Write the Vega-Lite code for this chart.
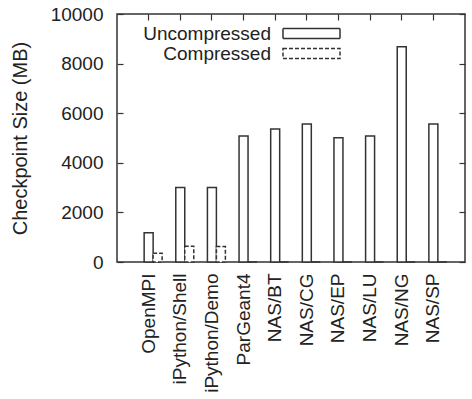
{
  "$schema": "https://vega.github.io/schema/vega-lite/v6.json",
  "width": 348,
  "height": 248,
  "autosize": {"type": "none"},
  "padding": {"left": 117, "top": 14, "right": 7, "bottom": 137},
  "background": "white",
  "config": {
    "font": "Liberation Sans",
    "view": {"stroke": "#333", "strokeWidth": 1.5},
    "axis": {"grid": false, "domain": false, "tickColor": "#333", "tickWidth": 1.2, "tickSize": -6, "labelColor": "#222", "labelFont": "Liberation Sans", "titleFont": "Liberation Sans", "titleFontWeight": "normal", "titleColor": "#222"}
  },
  "data": {"values": [
    {"app": "OpenMPI", "series": "Uncompressed", "size": 1180},
    {"app": "OpenMPI", "series": "Compressed", "size": 350},
    {"app": "iPython/Shell", "series": "Uncompressed", "size": 3000},
    {"app": "iPython/Shell", "series": "Compressed", "size": 640},
    {"app": "iPython/Demo", "series": "Uncompressed", "size": 3000},
    {"app": "iPython/Demo", "series": "Compressed", "size": 620},
    {"app": "ParGeant4", "series": "Uncompressed", "size": 5080},
    {"app": "ParGeant4", "series": "Compressed", "size": 0},
    {"app": "NAS/BT", "series": "Uncompressed", "size": 5360},
    {"app": "NAS/BT", "series": "Compressed", "size": 0},
    {"app": "NAS/CG", "series": "Uncompressed", "size": 5565},
    {"app": "NAS/CG", "series": "Compressed", "size": 0},
    {"app": "NAS/EP", "series": "Uncompressed", "size": 5010},
    {"app": "NAS/EP", "series": "Compressed", "size": 0},
    {"app": "NAS/LU", "series": "Uncompressed", "size": 5080},
    {"app": "NAS/LU", "series": "Compressed", "size": 0},
    {"app": "NAS/NG", "series": "Uncompressed", "size": 8680},
    {"app": "NAS/NG", "series": "Compressed", "size": 0},
    {"app": "NAS/SP", "series": "Uncompressed", "size": 5565},
    {"app": "NAS/SP", "series": "Compressed", "size": 0}
  ]},
  "layer": [
    {
      "mark": {"type": "bar", "fill": "white", "stroke": "#333", "strokeWidth": 1.5},
      "encoding": {
        "x": {"field": "app", "type": "nominal", "sort": null,
              "scale": {"paddingInner": 0, "paddingOuter": 0.5},
              "axis": {"title": null, "orient": "bottom", "labelAngle": -90, "labelFontSize": 19, "labelPadding": 17}},
        "xOffset": {"field": "series", "type": "nominal",
                    "scale": {"domain": ["_pad", "Uncompressed", "Compressed"], "paddingInner": 0, "paddingOuter": 0.26}},
        "y": {"field": "size", "type": "quantitative",
              "scale": {"domain": [0, 10000], "nice": false},
              "axis": {"title": "Checkpoint Size (MB)", "values": [0, 2000, 4000, 6000, 8000, 10000], "format": "d", "labelFontSize": 19, "titleFontSize": 20, "labelPadding": 20, "titlePadding": 20}},
        "strokeDash": {"field": "series", "type": "nominal",
                       "scale": {"domain": ["Uncompressed", "Compressed"], "range": [[1, 0], [4, 2]]},
                       "legend": {"title": null, "orient": "none", "legendX": 185, "legendY": 10,
                                  "symbolType": "m-5.7,-1h11.4v2h-11.4z", "symbolSize": 100,
                                  "labelFontSize": 19, "labelColor": "#222", "labelAlign": "right", "labelOffset": -50,
                                  "rowPadding": -2,
                                  "encode": {"symbols": {"update": {"stroke": {"value": "#333"}, "strokeWidth": {"value": 1.5}, "fill": {"value": "white"}, "opacity": {"value": 1}}}}}}
      }
    },
    {
      "mark": {"type": "bar", "opacity": 0},
      "encoding": {
        "x": {"field": "app", "type": "nominal", "sort": null,
              "axis": {"title": null, "orient": "top", "labels": false}},
        "y": {"field": "size", "type": "quantitative",
              "axis": {"title": null, "orient": "right", "labels": false, "values": [0, 2000, 4000, 6000, 8000, 10000]}}
      }
    }
  ],
  "resolve": {"axis": {"x": "independent", "y": "independent"}}
}
